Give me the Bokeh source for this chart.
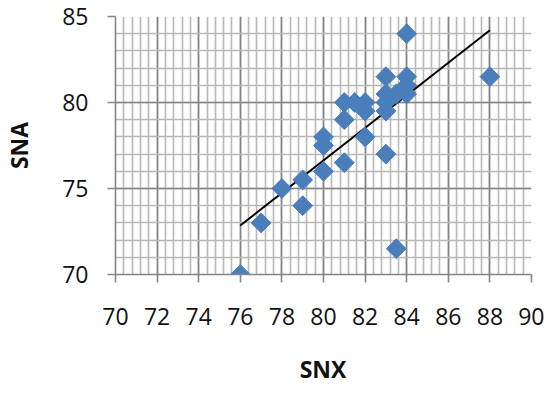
import numpy as np
from bokeh.plotting import figure
from bokeh.models import Range1d, SingleIntervalTicker, Div
from bokeh.layouts import column
from bokeh.embed import file_html
from bokeh.resources import INLINE

# Data
snx = [76, 77, 78, 79, 79, 80, 80, 80, 81, 81, 81, 81.5, 82, 82, 82, 83, 83, 83, 83, 83, 83.5, 83.5, 84, 84, 84, 84, 88]
sna = [70, 73, 75, 75.5, 74, 76, 77.5, 78, 76.5, 79, 80, 80, 78, 80, 79.5, 77, 81.5, 80.5, 80, 79.5, 71.5, 80.5, 84, 81.5, 81, 80.5, 81.5]
trend_x = [76, 88]
trend_y = [72.85, 84.2]

x_label = "SNX"
y_label = "SNA"

FONT = "Open Sans"

p = figure(width=544, height=336, output_backend="svg", toolbar_location=None,
           x_range=Range1d(70, 90), y_range=Range1d(70, 85),
           min_border_left=105, min_border_right=13, min_border_top=16, min_border_bottom=62)
p.outline_line_color = None
p.background_fill_color = "white"

p.xaxis.ticker = SingleIntervalTicker(interval=2, num_minor_ticks=5)
p.yaxis.ticker = SingleIntervalTicker(interval=5, num_minor_ticks=5)

for g in (p.xgrid, p.ygrid):
    g.grid_line_color = "#858585"
    g.grid_line_width = 1.6
    g.minor_grid_line_color = "#b8b8b8"
    g.minor_grid_line_width = 1.6

for ax in (p.xaxis, p.yaxis):
    ax.axis_line_color = "#858585"
    ax.axis_line_width = 1.6
    ax.major_tick_line_color = "#858585"
    ax.major_tick_line_width = 1.6
    ax.major_tick_out = 8
    ax.major_tick_in = 0
    ax.minor_tick_line_color = None
    ax.major_label_text_font = FONT
    ax.major_label_text_font_size = "23px"
    ax.major_label_text_color = "#111111"
    ax.axis_label_text_font = FONT
    ax.axis_label_text_font_size = "23px"
    ax.axis_label_text_font_style = "bold"
    ax.axis_label_text_color = "#111111"

p.yaxis.axis_label = y_label
p.xaxis.major_label_standoff = 25
p.yaxis.major_label_standoff = 19
p.yaxis.axis_label_standoff = 24

p.line(trend_x, trend_y, line_color="black", line_width=2)
p.scatter(snx, sna, marker="square", size=14, angle=np.pi / 4,
          fill_color="#4a7ebb", line_color="#4a7ebb", line_width=1)

title_html = (
    '<div style="margin:0 0 0 102px;padding:25px 0 0 0;width:442px;height:16px;'
    'line-height:16px;text-align:center;font-family:\'Open Sans\';font-weight:bold;'
    'font-size:23px;color:#111111;white-space:nowrap;">' + x_label + '</div>'
)
xtitle = Div(text=title_html, width=544, height=42, margin=0)

layout = column(p, xtitle, spacing=0)

open("out.html", "w").write(file_html(layout, INLINE))
